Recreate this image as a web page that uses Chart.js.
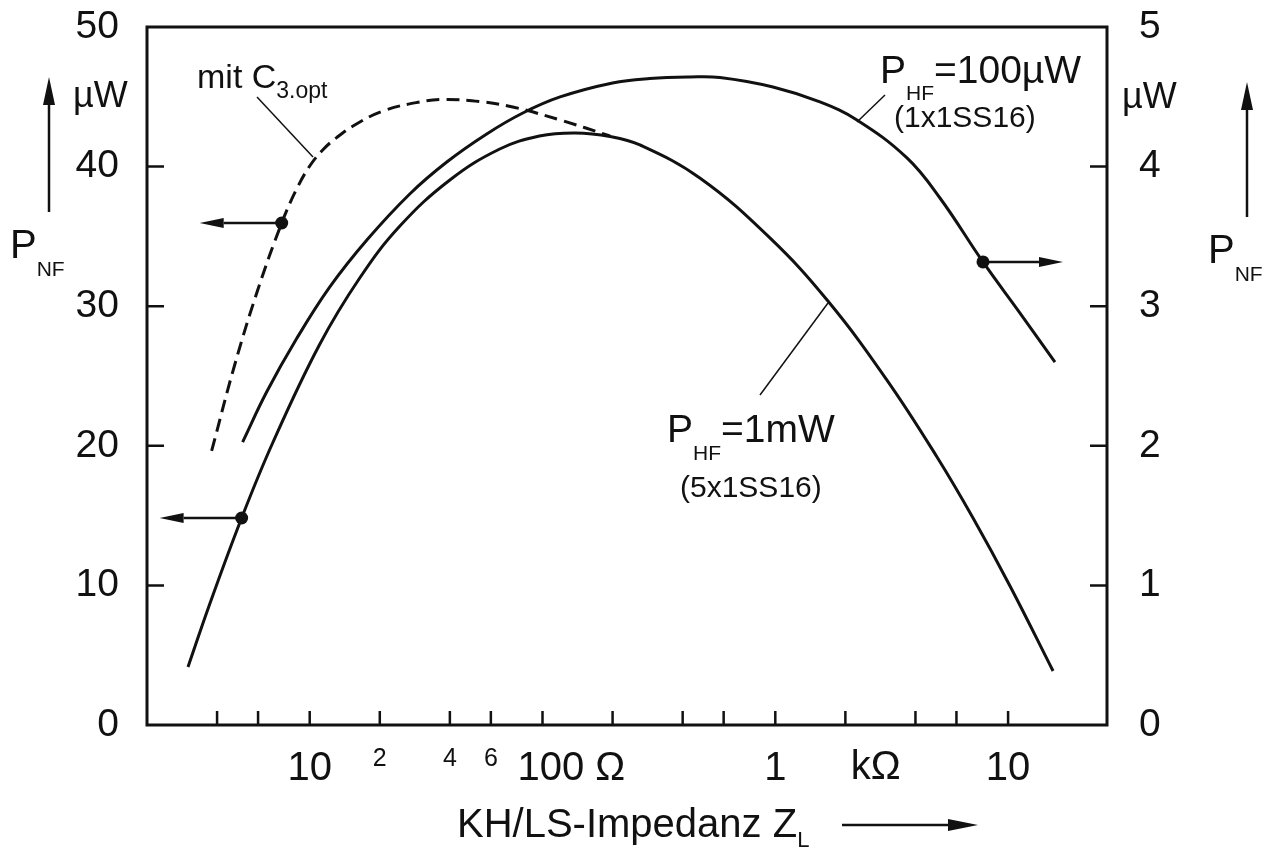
<!DOCTYPE html>
<html>
<head>
<meta charset="utf-8">
<script src="https://cdn.jsdelivr.net/npm/chart.js@4.4.1/dist/chart.umd.min.js"></script>
<style>
  html, body { margin: 0; padding: 0; background: #fff; }
  #wrap { width: 1269px; height: 850px; }
</style>
</head>
<body>
<div id="wrap"><canvas id="myChart" width="1269" height="850"></canvas></div>
<script>
// impedance Z_L in ohm, power P_NF in uW
const lowerZ = [3.0, 3.72, 5.1, 6.93, 11.0, 16.4, 24.4, 40, 65.5, 97, 138, 195, 262, 474, 948, 1683, 3017, 4950, 7070, 10190, 15600];
const lowerP = [4.15, 8.67, 14.83, 20.2, 27.22, 32.02, 35.74, 39.04, 41.26, 42.19, 42.41, 42.16, 41.55, 39.18, 34.89, 30.37, 24.71, 19.2, 14.83, 9.96, 3.87];

// right axis (0..5 uW)
const upperZ = [5.15, 6.53, 8.79, 12.2, 17.6, 26.9, 38.8, 57.6, 82.3, 119, 200, 289, 430, 578, 977, 1555, 2242, 3678, 5097, 7801, 11250, 15900];
const upperP = [2.027, 2.385, 2.768, 3.138, 3.474, 3.804, 4.033, 4.234, 4.384, 4.499, 4.599, 4.631, 4.642, 4.638, 4.57, 4.463, 4.334, 4.062, 3.775, 3.317, 2.951, 2.6];

const optZ = [3.79, 4.76, 5.98, 7.58, 8.79, 10.0, 11.37, 13.06, 15.61, 20.6, 29.7, 38.0, 53.8, 74.5, 119, 195];
const optP = [19.63, 25.79, 31.16, 35.96, 38.4, 40.04, 41.19, 42.08, 42.98, 43.98, 44.63, 44.81, 44.66, 44.27, 43.34, 42.2];

// marked points (arrow to the axis they belong to)
const lowerMark = 2;
const optMark = 3;
const upperMark = 19;

const xTicks = [4, 6, 10, 20, 40, 60, 100, 200, 400, 600, 1000, 2000, 4000, 6000, 10000];
const xLabelVals = [10, 20, 40, 60, 100, 1000, 10000];
const xLabelTexts = ['10', '2', '4', '6', '100 Ω', '1', '10'];
const leftTicks = [10, 20, 30, 40];
const rightTicks = [1, 2, 3, 4];

const FONT = "'Liberation Sans', Arial, sans-serif";
const INK = '#111';

function toPts(xs, ys) {
  return xs.map((v, i) => ({ x: v, y: ys[i] }));
}

function arrow(ctx, x0, y0, x1, y1, head, half) {
  const ang = Math.atan2(y1 - y0, x1 - x0);
  const bx = x1 - head * Math.cos(ang), by = y1 - head * Math.sin(ang);
  ctx.beginPath();
  ctx.moveTo(x0, y0);
  ctx.lineTo(bx, by);
  ctx.stroke();
  ctx.beginPath();
  ctx.moveTo(x1, y1);
  ctx.lineTo(bx + half * Math.sin(ang), by - half * Math.cos(ang));
  ctx.lineTo(bx - half * Math.sin(ang), by + half * Math.cos(ang));
  ctx.closePath();
  ctx.fill();
}

// parts: [text, size, dy]
function richText(ctx, x, y, parts) {
  ctx.textAlign = 'left';
  ctx.textBaseline = 'alphabetic';
  parts.forEach(p => {
    ctx.font = p[1] + 'px ' + FONT;
    ctx.fillText(p[0], x, y + p[2]);
    x += ctx.measureText(p[0]).width;
  });
}

function line(ctx, x0, y0, x1, y1) {
  ctx.beginPath();
  ctx.moveTo(x0, y0);
  ctx.lineTo(x1, y1);
  ctx.stroke();
}

const extras = {
  id: 'extras',
  afterDraw(chart) {
    const { ctx, chartArea: a, scales } = chart;
    const xs = scales.x, ys = scales.y, ys1 = scales.y1;
    ctx.save();
    ctx.strokeStyle = INK;
    ctx.fillStyle = INK;

    // frame
    ctx.lineWidth = 3;
    ctx.strokeRect(a.left, a.top, a.right - a.left, a.bottom - a.top);

    // inward tick marks
    ctx.lineWidth = 2.5;
    ctx.beginPath();
    xTicks.forEach(v => {
      const px = xs.getPixelForValue(v);
      ctx.moveTo(px, a.bottom);
      ctx.lineTo(px, a.bottom - 14);
    });
    leftTicks.forEach(v => {
      const py = ys.getPixelForValue(v);
      ctx.moveTo(a.left, py);
      ctx.lineTo(a.left + 17, py);
    });
    rightTicks.forEach(v => {
      const py = ys1.getPixelForValue(v);
      ctx.moveTo(a.right, py);
      ctx.lineTo(a.right - 17, py);
    });
    ctx.stroke();

    // x labels
    ctx.textBaseline = 'alphabetic';
    xLabelVals.forEach((v, i) => {
      const t = xLabelTexts[i];
      const px = xs.getPixelForValue(v);
      if (t.length === 1 && v < 100) {
        ctx.font = '25px ' + FONT;
        ctx.textAlign = 'center';
        ctx.fillText(t, px, a.bottom + 41);
      } else if (t.indexOf('Ω') > 0) {
        ctx.font = '40px ' + FONT;
        ctx.textAlign = 'left';
        ctx.fillText(t, px - 25, a.bottom + 55);
      } else {
        ctx.font = '40px ' + FONT;
        ctx.textAlign = 'center';
        ctx.fillText(t, px, a.bottom + 55);
      }
    });
    ctx.font = '40px ' + FONT;
    ctx.textAlign = 'center';
    ctx.fillText('kΩ', xs.getPixelForValue(2700), a.bottom + 54);

    // axis title + arrow
    richText(ctx, 457, 837, [['KH/LS-Impedanz Z', 40, 0], ['L', 22, 10]]);
    ctx.lineWidth = 2.5;
    arrow(ctx, 842, 825, 978, 825, 30, 6);

    // left axis unit
    richText(ctx, 10, 258, [['P', 40, 0], ['NF', 21, 18]]);
    ctx.font = '36px ' + FONT;
    ctx.textAlign = 'left';
    ctx.fillText('µW', 73, 107);
    arrow(ctx, 49, 212, 49, 77, 28, 6);

    // right axis unit
    richText(ctx, 1208, 263, [['P', 40, 0], ['NF', 21, 18]]);
    ctx.font = '36px ' + FONT;
    ctx.textAlign = 'left';
    ctx.fillText('µW', 1122, 108);
    arrow(ctx, 1247, 217, 1247, 82, 28, 6);

    // curve labels
    richText(ctx, 197, 88, [['mit C', 34, 0], ['3.opt', 23, 10]]);
    richText(ctx, 880, 83, [['P', 39, 0], ['HF', 21, 17], ['=100µW', 39, 0]]);
    ctx.font = '30px ' + FONT;
    ctx.textAlign = 'left';
    ctx.fillText('(1x1SS16)', 894, 127);
    richText(ctx, 667, 442, [['P', 39, 0], ['HF', 21, 18], ['=1mW', 39, 0]]);
    ctx.font = '30px ' + FONT;
    ctx.fillText('(5x1SS16)', 680, 497);

    // leader lines
    ctx.lineWidth = 1.5;
    line(ctx, 257, 97, 313, 157);
    line(ctx, 885, 95, 857, 122);
    line(ctx, 760, 395, 828, 303);

    // arrows from marked points to their axis
    ctx.lineWidth = 2.5;
    const pOpt = chart.getDatasetMeta(2).data[optMark];
    const pLow = chart.getDatasetMeta(0).data[lowerMark];
    const pUp = chart.getDatasetMeta(1).data[upperMark];
    arrow(ctx, pOpt.x, pOpt.y, pOpt.x - 82, pOpt.y, 24, 5);
    arrow(ctx, pLow.x, pLow.y, pLow.x - 82, pLow.y, 24, 5);
    arrow(ctx, pUp.x, pUp.y, pUp.x + 80, pUp.y, 24, 5);

    ctx.restore();
  }
};

function markRadius(idx) {
  return c => (c.dataIndex === idx ? 6.5 : 0);
}

function fitY(width) {
  return s => {
    s.width = width;
    s.paddingTop = 0;
    s.paddingBottom = 0;
  };
}

function curve(label, pts, axis, mark, dash) {
  return {
    label: label,
    data: pts,
    yAxisID: axis,
    borderColor: INK,
    borderWidth: 3,
    borderDash: dash,
    tension: 0.4,
    pointRadius: markRadius(mark),
    pointBackgroundColor: INK,
    pointBorderWidth: 0
  };
}

const ctx = document.getElementById('myChart').getContext('2d');
const myChart = new Chart(ctx, {
  type: 'line',
  data: {
    datasets: [
      curve('PHF = 1mW (5x1SS16)', toPts(lowerZ, lowerP), 'y', lowerMark, []),
      curve('PHF = 100µW (1x1SS16)', toPts(upperZ, upperP), 'y1', upperMark, []),
      curve('mit C3.opt', toPts(optZ, optP), 'y', optMark, [13, 7])
    ]
  },
  options: {
    responsive: false,
    animation: false,
    devicePixelRatio: 1,
    layout: { padding: { top: 27, left: 0, right: 0, bottom: 0 } },
    plugins: {
      legend: { display: false },
      tooltip: { enabled: false }
    },
    scales: {
      x: {
        type: 'logarithmic',
        min: 2,
        max: 26600,
        grid: { display: false },
        border: { display: false },
        ticks: { display: false },
        afterFit: s => { s.height = 125; }
      },
      y: {
        position: 'left',
        min: 0,
        max: 50,
        grid: { display: false },
        border: { display: false },
        ticks: { stepSize: 10, color: INK, padding: 20, font: { family: FONT, size: 39 } },
        afterFit: fitY(147)
      },
      y1: {
        position: 'right',
        min: 0,
        max: 5,
        grid: { display: false },
        border: { display: false },
        ticks: { stepSize: 1, color: INK, padding: 24, font: { family: FONT, size: 39 } },
        afterFit: fitY(162)
      }
    }
  },
  plugins: [extras]
});
</script>
</body>
</html>
